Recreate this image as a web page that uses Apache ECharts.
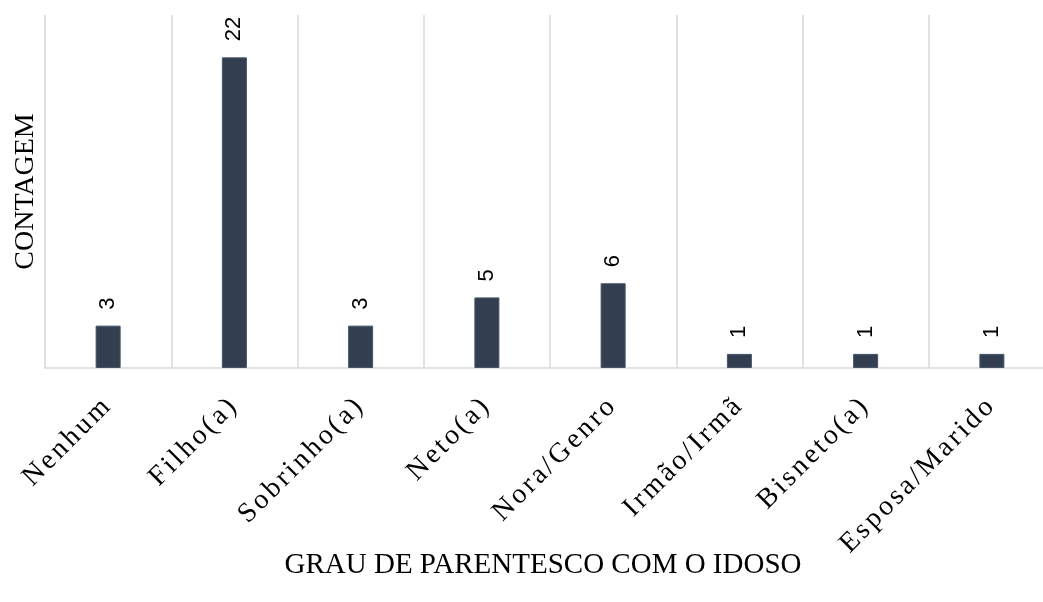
<!DOCTYPE html>
<html><head><meta charset="utf-8">
<script src="https://cdn.jsdelivr.net/npm/echarts@6/dist/echarts.min.js"></script>
<style>html,body{margin:0;padding:0;background:#fff}#c{width:1043px;height:602px}</style>
</head><body><div id="c"></div>
<script>
const categories = ['Nenhum','Filho(a)','Sobrinho(a)','Neto(a)','Nora/Genro','Irmão/Irmã','Bisneto(a)','Esposa/Marido'];
const counts = [3,22,3,5,6,1,1,1];
const xTitle = 'GRAU DE PARENTESCO COM O IDOSO';
const yTitle = 'CONTAGEM';
const serif = '"Liberation Serif", "Times New Roman", serif';
const sans = '"Liberation Sans", Arial, sans-serif';
const chart = echarts.init(document.getElementById('c'), null, {renderer:'canvas'});
chart.setOption({
  animation:false,
  grid:{left:45,right:-12,top:15,bottom:234,containLabel:false,outerBoundsMode:'none'},
  xAxis:{type:'category',data:categories,
    axisLine:{lineStyle:{color:'#d9d9d9',width:1.5}},
    axisTick:{show:false},
    splitLine:{show:true,lineStyle:{color:'#d9d9d9',width:1.5}},
    axisLabel:{rotate:45,margin:33,interval:0,
      formatter:v=>v.split('').map(ch=>'{c|'+ch+'}').join(''),
      rich:{c:{fontFamily:serif,fontSize:28,color:'#000',padding:[0,3,0,0]}}},
    name:xTitle,nameLocation:'middle',nameGap:183,nameMoveOverlap:false,
    nameTextStyle:{fontFamily:serif,fontSize:29,color:'#000',padding:[0,14,0,0]}},
  yAxis:{type:'value',min:0,max:25,
    axisLine:{show:false},axisTick:{show:false},axisLabel:{show:false},splitLine:{show:false},
    name:yTitle,nameLocation:'middle',nameGap:5,nameMoveOverlap:false,
    nameTextStyle:{fontFamily:serif,fontSize:28,color:'#000'}},
  series:[{type:'bar',data:counts,barWidth:25,
    itemStyle:{color:'#333f50',borderColor:'#44546a',borderWidth:1},
    label:{show:true,position:'top',rotate:90,align:'left',verticalAlign:'middle',distance:16,
      fontFamily:sans,fontSize:22,color:'#000'}}]
});
</script></body></html>
